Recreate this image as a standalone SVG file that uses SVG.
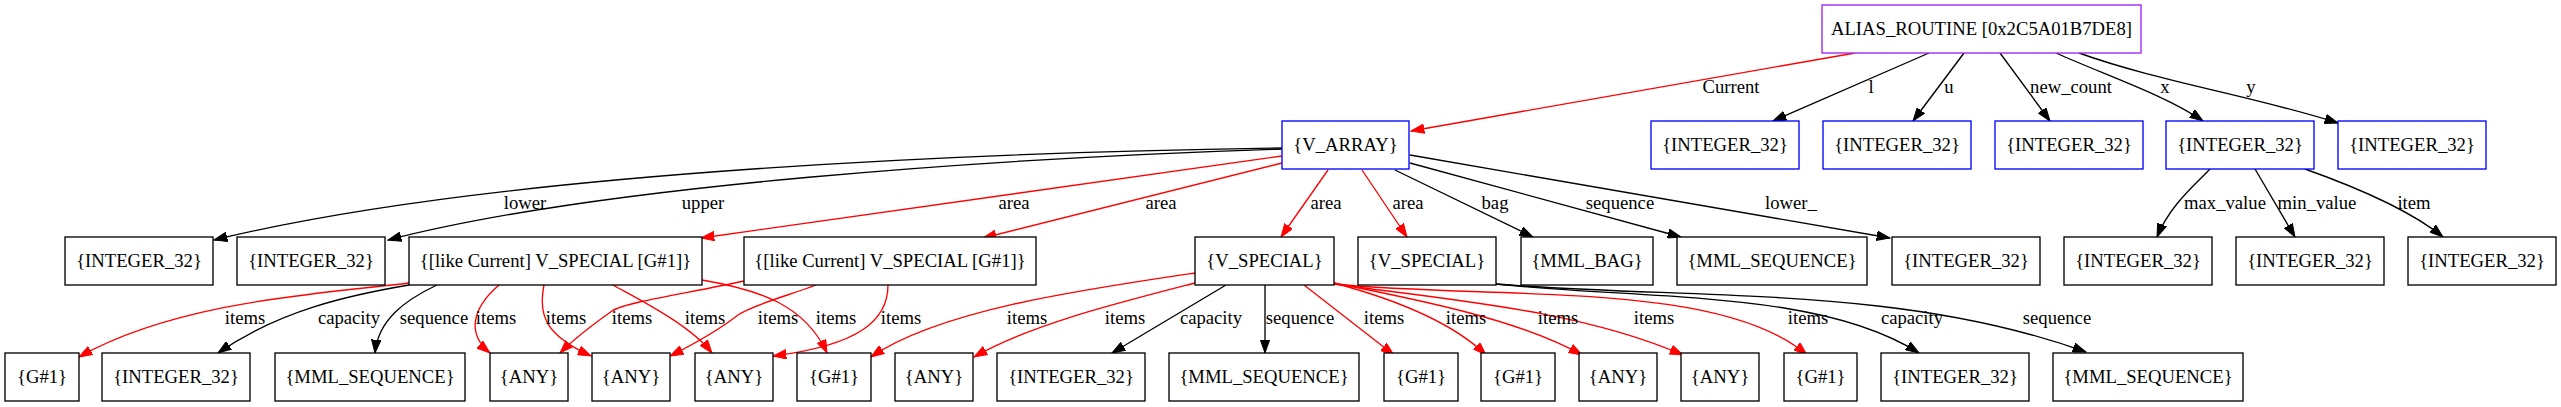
<svg xmlns="http://www.w3.org/2000/svg" width="2561" height="407" viewBox="0 0 2561 407">
<style>
text{font-family:"Liberation Serif","Times New Roman",serif;font-size:18.67px;fill:#000;text-anchor:middle}
.b rect{fill:#fff;stroke:#000;stroke-width:1.33}
.bl rect{stroke:#0000ff}
.pu rect{stroke:#a020f0}
.k{fill:none;stroke:#000;stroke-width:1.33;marker-end:url(#ak)}
.r{fill:none;stroke:#ff0000;stroke-width:1.33;marker-end:url(#ar)}
</style>
<defs>
<marker id="ak" markerUnits="userSpaceOnUse" markerWidth="14" markerHeight="10" viewBox="0 0 14 10" refX="13.3" refY="5" orient="auto"><path d="M0,0.3 L13.3,5 L0,9.7 z" fill="#000" stroke="#000" stroke-width="1"/></marker>
<marker id="ar" markerUnits="userSpaceOnUse" markerWidth="14" markerHeight="10" viewBox="0 0 14 10" refX="13.3" refY="5" orient="auto"><path d="M0,0.3 L13.3,5 L0,9.7 z" fill="#ff0000" stroke="#ff0000" stroke-width="1"/></marker>
</defs>
<rect width="2561" height="407" fill="#fff"/>
<g id="connectors">
<path class="r" d="M1855,53 L1411,131"/>
<path class="k" d="M1929,53 L1773,121"/>
<path class="k" d="M1964,53 L1913,121"/>
<path class="k" d="M2000,53 L2050,121"/>
<path class="k" d="M2056,53 C2105,75 2165,95 2203,121"/>
<path class="k" d="M2079,53 C2160,82 2250,95 2338,123"/>
<path class="k" d="M1282,148 C1000,152 500,170 214,240"/>
<path class="k" d="M1282,149 C1000,158 600,185 388,240"/>
<path class="r" d="M1282,156 L701,238"/>
<path class="r" d="M1282,163 L983,238"/>
<path class="r" d="M1328,170 L1281,237"/>
<path class="r" d="M1362,170 L1407,237"/>
<path class="k" d="M1395,170 L1533,237"/>
<path class="k" d="M1410,163 L1681,237"/>
<path class="k" d="M1410,155 L1890,238"/>
<path class="k" d="M2210,169 C2195,185 2170,205 2157,237"/>
<path class="k" d="M2255,169 L2295,237"/>
<path class="k" d="M2305,169 C2350,185 2410,210 2443,237"/>
<path class="r" d="M409,283 C330,293 180,300 79,357"/>
<path class="k" d="M409,285 C350,295 280,310 218,353"/>
<path class="k" d="M437,285 C405,300 378,320 375,353"/>
<path class="r" d="M499,285 C470,310 468,335 490,353"/>
<path class="r" d="M544,285 C538,315 545,335 591,356"/>
<path class="r" d="M613,285 C640,300 690,325 712,353"/>
<path class="r" d="M702,280 C760,290 805,305 827,353"/>
<path class="r" d="M744,281 C690,293 625,302 612,311 C595,323 575,338 560,353"/>
<path class="r" d="M816,285 C790,295 752,305 738,315 C715,333 692,345 670,356"/>
<path class="r" d="M888,285 C888,320 860,345 773,356"/>
<path class="r" d="M1195,273 C1080,290 940,310 871,357"/>
<path class="r" d="M1195,283 C1110,305 1030,325 974,357"/>
<path class="k" d="M1226,285 L1112,353"/>
<path class="k" d="M1265,285 L1265,353"/>
<path class="r" d="M1304,285 L1394,355"/>
<path class="r" d="M1334,283 C1390,298 1450,320 1486,355"/>
<path class="r" d="M1334,283 C1420,300 1520,320 1582,355"/>
<path class="r" d="M1334,284 C1450,300 1580,310 1683,355"/>
<path class="r" d="M1334,284 C1500,300 1720,280 1807,355"/>
<path class="k" d="M1496,284 C1650,300 1820,290 1919,353"/>
<path class="k" d="M1496,284 C1700,300 1900,285 2086,352"/>
</g>
<g id="edge-labels">
<text x="1731" y="93">Current</text>
<text x="1871" y="93">l</text>
<text x="1949" y="93">u</text>
<text x="2071" y="93">new_count</text>
<text x="2165" y="93">x</text>
<text x="2251" y="93">y</text>
<text x="525" y="209">lower</text>
<text x="703" y="209">upper</text>
<text x="1014" y="209">area</text>
<text x="1161" y="209">area</text>
<text x="1326" y="209">area</text>
<text x="1408" y="209">area</text>
<text x="1495" y="209">bag</text>
<text x="1620" y="209">sequence</text>
<text x="1791" y="209">lower_</text>
<text x="2225" y="209">max_value</text>
<text x="2317" y="209">min_value</text>
<text x="2414" y="209">item</text>
<text x="245" y="324">items</text>
<text x="349" y="324">capacity</text>
<text x="434" y="324">sequence</text>
<text x="496" y="324">items</text>
<text x="566" y="324">items</text>
<text x="632" y="324">items</text>
<text x="705" y="324">items</text>
<text x="778" y="324">items</text>
<text x="836" y="324">items</text>
<text x="901" y="324">items</text>
<text x="1027" y="324">items</text>
<text x="1125" y="324">items</text>
<text x="1211" y="324">capacity</text>
<text x="1300" y="324">sequence</text>
<text x="1384" y="324">items</text>
<text x="1466" y="324">items</text>
<text x="1558" y="324">items</text>
<text x="1654" y="324">items</text>
<text x="1808" y="324">items</text>
<text x="1912" y="324">capacity</text>
<text x="2057" y="324">sequence</text>
</g>
<g id="n_alias" class="b pu"><rect x="1822" y="5" width="319" height="48"/><text x="1981.5" y="35">ALIAS_ROUTINE [0x2C5A01B7DE8]</text></g>
<g id="n_varray" class="b bl"><rect x="1282" y="121" width="127" height="48"/><text x="1345.5" y="151">{V_ARRAY}</text></g>
<g id="n_l" class="b bl"><rect x="1651" y="121" width="148" height="48"/><text x="1725" y="151">{INTEGER_32}</text></g>
<g id="n_u" class="b bl"><rect x="1823" y="121" width="148" height="48"/><text x="1897" y="151">{INTEGER_32}</text></g>
<g id="n_newcount" class="b bl"><rect x="1995" y="121" width="148" height="48"/><text x="2069" y="151">{INTEGER_32}</text></g>
<g id="n_x" class="b bl"><rect x="2166" y="121" width="148" height="48"/><text x="2240" y="151">{INTEGER_32}</text></g>
<g id="n_y" class="b bl"><rect x="2338" y="121" width="148" height="48"/><text x="2412" y="151">{INTEGER_32}</text></g>
<g id="n_lower" class="b"><rect x="65" y="237" width="148" height="48"/><text x="139" y="267">{INTEGER_32}</text></g>
<g id="n_upper" class="b"><rect x="237" y="237" width="148" height="48"/><text x="311" y="267">{INTEGER_32}</text></g>
<g id="n_lc1" class="b"><rect x="409" y="237" width="293" height="48"/><text x="555.5" y="267">{[like Current] V_SPECIAL [G#1]}</text></g>
<g id="n_lc2" class="b"><rect x="744" y="237" width="292" height="48"/><text x="890" y="267">{[like Current] V_SPECIAL [G#1]}</text></g>
<g id="n_vs1" class="b"><rect x="1195" y="237" width="139" height="48"/><text x="1264.5" y="267">{V_SPECIAL}</text></g>
<g id="n_vs2" class="b"><rect x="1358" y="237" width="138" height="48"/><text x="1427" y="267">{V_SPECIAL}</text></g>
<g id="n_bag" class="b"><rect x="1521" y="237" width="132" height="48"/><text x="1587" y="267">{MML_BAG}</text></g>
<g id="n_seq" class="b"><rect x="1677" y="237" width="190" height="48"/><text x="1772" y="267">{MML_SEQUENCE}</text></g>
<g id="n_lower_" class="b"><rect x="1892" y="237" width="148" height="48"/><text x="1966" y="267">{INTEGER_32}</text></g>
<g id="n_max" class="b"><rect x="2064" y="237" width="148" height="48"/><text x="2138" y="267">{INTEGER_32}</text></g>
<g id="n_min" class="b"><rect x="2236" y="237" width="148" height="48"/><text x="2310" y="267">{INTEGER_32}</text></g>
<g id="n_item" class="b"><rect x="2408" y="237" width="148" height="48"/><text x="2482" y="267">{INTEGER_32}</text></g>
<g id="n_g1a" class="b"><rect x="5" y="353" width="74" height="48"/><text x="42" y="383">{G#1}</text></g>
<g id="n_int_a" class="b"><rect x="102" y="353" width="148" height="48"/><text x="176" y="383">{INTEGER_32}</text></g>
<g id="n_seq_a" class="b"><rect x="275" y="353" width="190" height="48"/><text x="370" y="383">{MML_SEQUENCE}</text></g>
<g id="n_any1" class="b"><rect x="490" y="353" width="78" height="48"/><text x="529" y="383">{ANY}</text></g>
<g id="n_any2" class="b"><rect x="592" y="353" width="78" height="48"/><text x="631" y="383">{ANY}</text></g>
<g id="n_any3" class="b"><rect x="695" y="353" width="78" height="48"/><text x="734" y="383">{ANY}</text></g>
<g id="n_g1b" class="b"><rect x="797" y="353" width="74" height="48"/><text x="834" y="383">{G#1}</text></g>
<g id="n_any4" class="b"><rect x="895" y="353" width="78" height="48"/><text x="934" y="383">{ANY}</text></g>
<g id="n_int_b" class="b"><rect x="997" y="353" width="148" height="48"/><text x="1071" y="383">{INTEGER_32}</text></g>
<g id="n_seq_b" class="b"><rect x="1169" y="353" width="190" height="48"/><text x="1264" y="383">{MML_SEQUENCE}</text></g>
<g id="n_g1c" class="b"><rect x="1384" y="353" width="74" height="48"/><text x="1421" y="383">{G#1}</text></g>
<g id="n_g1d" class="b"><rect x="1481" y="353" width="74" height="48"/><text x="1518" y="383">{G#1}</text></g>
<g id="n_any5" class="b"><rect x="1579" y="353" width="78" height="48"/><text x="1618" y="383">{ANY}</text></g>
<g id="n_any6" class="b"><rect x="1681" y="353" width="78" height="48"/><text x="1720" y="383">{ANY}</text></g>
<g id="n_g1e" class="b"><rect x="1784" y="353" width="73" height="48"/><text x="1820.5" y="383">{G#1}</text></g>
<g id="n_int_c" class="b"><rect x="1881" y="353" width="148" height="48"/><text x="1955" y="383">{INTEGER_32}</text></g>
<g id="n_seq_c" class="b"><rect x="2053" y="353" width="190" height="48"/><text x="2148" y="383">{MML_SEQUENCE}</text></g>
</svg>
